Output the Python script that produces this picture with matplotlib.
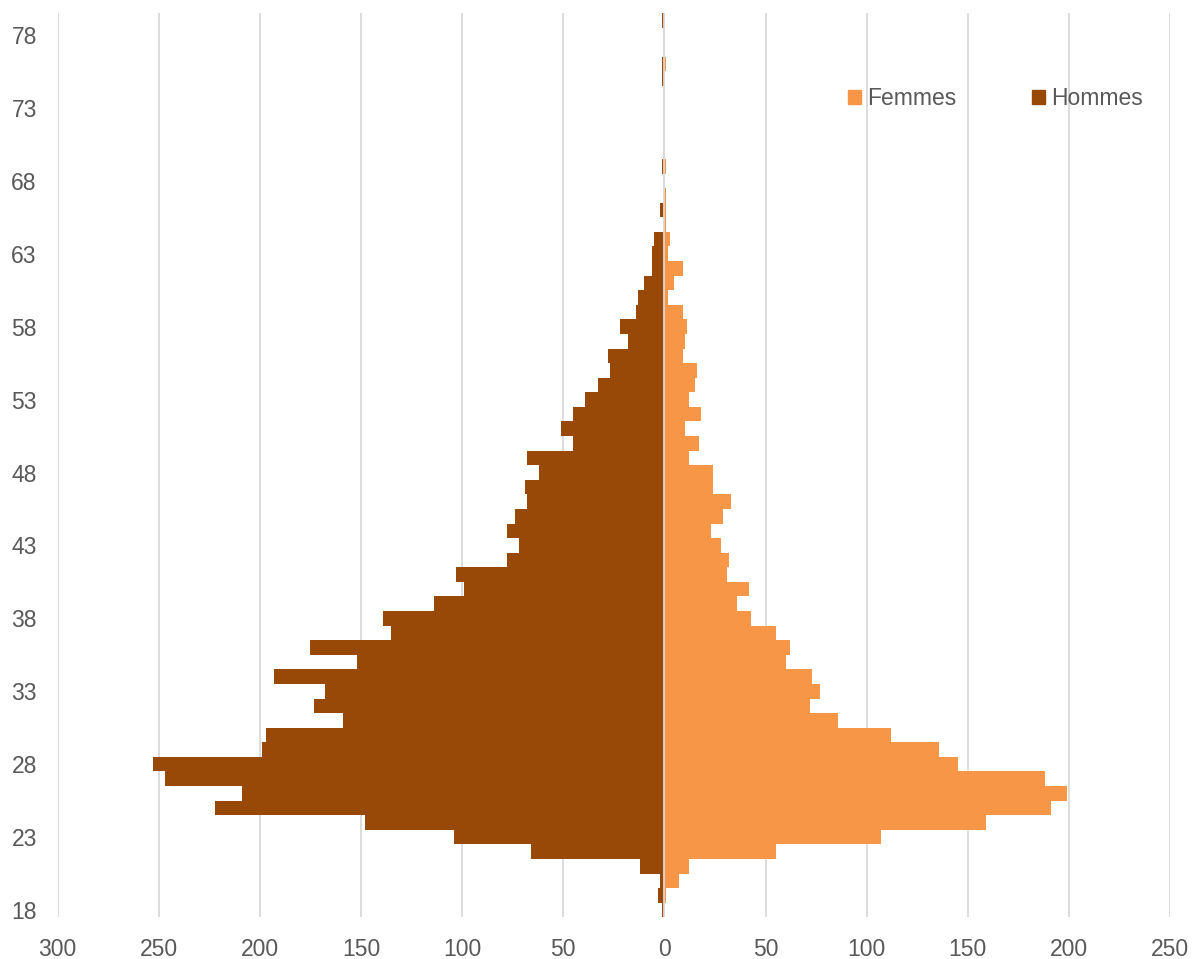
import numpy as np
import matplotlib
matplotlib.use("Agg")
import matplotlib.pyplot as plt
from matplotlib.patches import Patch
from matplotlib.ticker import FuncFormatter

# ages 18..79
ages = np.arange(18, 80)

hommes = [1, 3, 2, 12, 66, 104, 148, 222, 209, 247,
          253, 199, 197, 159, 173, 168, 193, 152, 175, 135,
          139, 114, 99, 103, 78, 72, 78, 74, 68, 69,
          62, 68, 45, 51, 45, 39, 33, 27, 28, 18,
          22, 14, 13, 10, 6, 6, 5, 0, 2, 0,
          0, 1, 0, 0, 0, 0, 0, 1, 1, 0,
          0, 1]

femmes = [0, 1, 7, 12, 55, 107, 159, 191, 199, 188,
          145, 136, 112, 86, 72, 77, 73, 60, 62, 55,
          43, 36, 42, 31, 32, 28, 23, 29, 33, 24,
          24, 12, 17, 10, 18, 12, 15, 16, 9, 10,
          11, 9, 2, 5, 9, 2, 3, 1, 1, 1,
          0, 1, 0, 0, 0, 0, 0, 0, 1, 0,
          0, 0]

x_ticks = np.arange(-300, 251, 50)
y_ticks = ages[::5]

couleur_femmes = "#F79646"
couleur_hommes = "#984807"
gris_texte = "#595959"
gris_grille = "#D9D9D9"

plt.rcParams["font.family"] = ["Liberation Sans", "DejaVu Sans"]

fig = plt.figure(figsize=(11.95, 9.59), dpi=100)
ax = fig.add_axes([0.0482, 0.0435, 0.9309, 0.9428])

ax.barh(ages, -np.array(hommes), height=1.0, color=couleur_hommes,
        linewidth=0, zorder=2)
ax.barh(ages, femmes, height=1.0, color=couleur_femmes,
        linewidth=0, zorder=2)

# axe vertical a zero, par-dessus les barres
ax.axvline(0, color=gris_grille, linewidth=1.3, zorder=3)

ax.set_xlim(-300, 250)
ax.set_ylim(17.5, 79.5)
ax.set_xticks(x_ticks)
ax.set_yticks(y_ticks)
ax.xaxis.set_major_formatter(FuncFormatter(lambda v, p: f"{abs(int(v))}"))

ax.grid(axis="x", color=gris_grille, linewidth=1.3, zorder=0)
ax.set_axisbelow(True)
for s in ax.spines.values():
    s.set_visible(False)
ax.tick_params(length=0, pad=15, labelsize=16.5, labelcolor=gris_texte)

handles = [Patch(color=couleur_femmes, label="Femmes"),
           Patch(color=couleur_hommes, label="Hommes")]
fig.legend(handles=handles, loc="center left", bbox_to_anchor=(848 / 1195, 1 - 98.5 / 959),
           ncol=2, frameon=False, fontsize=16.5, labelcolor=gris_texte,
           handlelength=0.57, handleheight=0.57, handletextpad=0.26,
           columnspacing=3.3, borderpad=0, borderaxespad=0)

fig.savefig("out.png", dpi=100)
